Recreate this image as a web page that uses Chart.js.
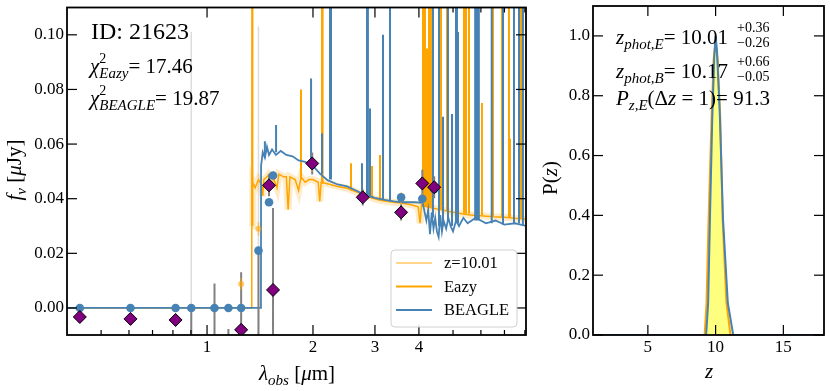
<!DOCTYPE html>
<html>
<head>
<meta charset="utf-8">
<script src="https://cdn.jsdelivr.net/npm/chart.js@4.4.1/dist/chart.umd.min.js"></script>
<style>
  body { margin: 0; background: #fff; }
  #wrap { position: relative; width: 830px; height: 391px; }
  canvas { position: absolute; top: 0; }
</style>
</head>
<body>
<div id="wrap">
  <canvas id="sed" width="540" height="391" style="left:0"></canvas>
  <canvas id="pz" width="290" height="391" style="left:540px"></canvas>
</div>
<script>
const SERIF = '"Liberation Serif", "Times New Roman", serif';
Chart.defaults.font.family = SERIF;
Chart.defaults.font.size = 17;
Chart.defaults.color = '#000';

// ---------- SED panel data (wavelength in micron, flux in uJy) ----------
const filterLam  = [0.435, 0.606, 0.814, 0.902, 1.05, 1.15, 1.25, 1.40, 1.50, 1.54, 1.99, 2.77, 3.56, 4.09, 4.42];
const obsFlux    = [-0.0033, -0.0040, -0.0044, -0.016, -0.015, -0.020, -0.0080, -0.020, 0.0449, 0.0066, 0.0529, 0.0405, 0.0350, 0.0456, 0.0442];
const obsErr     = [0.0020, 0.0020, 0.0020, 0.016, 0.024, 0.0123, 0.0211, 0.041, 0.0040, 0.0300, 0.0040, 0.0030, 0.0030, 0.0050, 0.0040];
const beaglePhot = [0, 0, 0, 0, 0, 0, 0, 0.0210, 0.0387, 0.0485, 0.0525, 0.0410, 0.0405, 0.0400, 0.0435];
const eazyPhot   = [0, 0, 0, 0, 0, 0, 0.0088, 0.0290, 0.0445, 0.0480, 0.0520, 0.0405, 0.0404, 0.0400, 0.0440];
const eazyPhotErr = [0.001, 0.001, 0.001, 0.001, 0.001, 0.001, 0.0022, 0.0025, 0.002, 0.002, 0.002, 0.002, 0.002, 0.002, 0.002];

// faint full-height error bars
const wideLam = [0.902, 1.40];
const wideLo  = [-0.05, -0.05];
const wideHi  = [0.101, 0.103];

// model spectra continuum [lambda, flux]
const eazyCont = [
  [0.40, 0.0], [1.340, 0.0], [1.342, 0.20], [1.346, 0.030], [1.350, 0.046], [1.37, 0.044], [1.40, 0.047],
  [1.43, 0.045], [1.44, 0.041], [1.45, 0.047], [1.48, 0.048], [1.50, 0.049], [1.55, 0.047], [1.58, 0.044],
  [1.60, 0.049], [1.65, 0.048], [1.68, 0.048], [1.70, 0.036], [1.72, 0.048], [1.78, 0.047], [1.82, 0.043],
  [1.85, 0.048], [1.90, 0.046], [1.95, 0.047], [2.00, 0.047], [2.07, 0.046], [2.09, 0.039], [2.11, 0.046],
  [2.20, 0.0455], [2.35, 0.0445], [2.50, 0.0438], [2.65, 0.0425], [2.80, 0.0415], [2.95, 0.0402], [3.10, 0.0394],
  [3.35, 0.0388], [3.60, 0.0383], [3.80, 0.0378], [3.98, 0.037], [4.03, 0.031], [4.07, 0.038], [4.20, 0.037],
  [4.40, 0.0365], [4.60, 0.036], [4.80, 0.0355], [5.00, 0.035], [5.30, 0.0345], [5.60, 0.034], [6.00, 0.0338],
  [6.50, 0.0334], [7.00, 0.0332], [7.50, 0.0328], [8.10, 0.0325]
];
const beagleCont = [
  [0.40, 0.0], [1.423, 0.0], [1.424, 0.052], [1.44, 0.057], [1.46, 0.055], [1.48, 0.059], [1.50, 0.056],
  [1.53, 0.058], [1.57, 0.056], [1.62, 0.0575], [1.68, 0.056], [1.75, 0.0555], [1.82, 0.054], [1.90, 0.0535],
  [2.00, 0.052], [2.10, 0.049], [2.20, 0.0468], [2.35, 0.0452], [2.50, 0.0445], [2.65, 0.043], [2.80, 0.0415],
  [3.00, 0.0403], [3.20, 0.0396], [3.40, 0.039], [3.60, 0.0387], [3.90, 0.0387], [4.10, 0.0385], [4.20, 0.032],
  [4.25, 0.036], [4.30, 0.027], [4.35, 0.035], [4.40, 0.029], [4.45, 0.033], [4.50, 0.028], [4.55, 0.026],
  [4.60, 0.034], [4.65, 0.028], [4.70, 0.032], [4.78, 0.029], [4.85, 0.033], [4.92, 0.030], [5.00, 0.028],
  [5.10, 0.032], [5.20, 0.030], [5.35, 0.033], [5.50, 0.031], [5.80, 0.033], [6.20, 0.031], [6.60, 0.032],
  [7.00, 0.0305], [7.50, 0.031], [8.10, 0.030]
];
// emission lines [lambda, base, peak]
const eazyLines = [
  [1.849, 0.047, 0.080], [2.122, 0.0455, 0.2], [2.130, 0.0455, 0.2], [2.565, 0.043, 0.053], [2.943, 0.040, 0.052],
  [3.101, 0.0394, 0.056], [4.108, 0.037, 0.2], [4.163, 0.037, 0.2], [4.217, 0.037, 0.095], [4.272, 0.037, 0.2],
  [4.328, 0.037, 0.2], [4.621, 0.036, 0.2], [4.806, 0.0355, 0.2], [5.372, 0.0345, 0.2], [5.443, 0.0345, 0.2],
  [5.550, 0.0345, 0.2], [6.042, 0.034, 0.075], [6.494, 0.0335, 0.2], [6.888, 0.033, 0.2], [7.210, 0.033, 0.2],
  [7.257, 0.033, 0.062], [7.800, 0.0325, 0.2]
];
const beagleLines = [
  [1.46, 0.055, 0.061], [1.571, 0.057, 0.067], [1.975, 0.0525, 0.084], [2.122, 0.049, 0.064], [2.236, 0.047, 0.2],
  [2.250, 0.047, 0.2], [2.756, 0.042, 0.053], [2.848, 0.041, 0.2], [2.865, 0.041, 0.2], [2.904, 0.041, 0.073],
  [3.162, 0.0395, 0.100], [3.311, 0.039, 0.2], [4.385, 0.033, 0.2], [4.561, 0.030, 0.2], [4.682, 0.030, 0.070],
  [4.837, 0.032, 0.2], [4.966, 0.030, 0.071], [5.098, 0.031, 0.2], [5.130, 0.031, 0.2], [5.165, 0.031, 0.101],
  [5.780, 0.032, 0.2], [5.850, 0.032, 0.2], [5.920, 0.032, 0.2], [6.440, 0.031, 0.2], [6.934, 0.0305, 0.2],
  [7.450, 0.031, 0.2], [7.700, 0.031, 0.2], [7.900, 0.030, 0.2]
];

const xMajor = [1, 2, 3, 4];
const xMinorBottom = [0.5, 0.6, 0.7, 0.8, 0.9, 5, 6, 7, 8];
const xMinorTop = [5, 6, 7, 8];
const yTicksSed = [0, 0.02, 0.04, 0.06, 0.08, 0.10];
const legendLabels = ['z=10.01', 'Eazy', 'BEAGLE'];

// ---------- P(z) panel data ----------
const zEazy = [1, 9.19, 9.33, 9.48, 9.70, 9.85, 10.0, 10.15, 10.35, 10.52, 10.80, 11.10, 18];
const pEazy = [0, 0, 0.107, 0.385, 0.72, 0.92, 0.98, 0.92, 0.72, 0.385, 0.107, 0, 0];
const zBeagle = [1, 9.30, 9.45, 9.58, 9.75, 9.90, 10.0, 10.10, 10.30, 10.55, 10.90, 11.30, 18];
const pBeagle = [0, 0, 0.107, 0.385, 0.72, 0.93, 1.0, 0.95, 0.75, 0.385, 0.107, 0, 0];
const zTicks = [5, 10, 15];
const pTicks = [0, 0.2, 0.4, 0.6, 0.8, 1.0];

// ---------- colours ----------
const ORANGE = '#ffa500';
const BLUE = '#4682b4';
const BAND = 'rgba(255,165,0,0.22)';

// ---------- helpers ----------
const pts = (xs, ys) => xs.map((x, i) => ({ x: x, y: ys[i] }));
const pairs = arr => arr.map(p => ({ x: p[0], y: p[1] }));
function bars(xs, lo, hi) {
  const out = [];
  xs.forEach((x, i) => out.push({ x: x, y: lo[i] }, { x: x, y: hi[i] }, { x: x, y: null }));
  return out;
}
function spikes(lines) {
  const out = [];
  lines.forEach(l => out.push({ x: l[0], y: l[1] }, { x: l[0], y: l[2] }, { x: l[0], y: null }));
  return out;
}
const lineSet = (label, data, color, width, order) => ({
  label: label, data: data, showLine: true, borderColor: color, borderWidth: width,
  pointRadius: 0, order: order, clip: 0, spanGaps: false
});

// draw text with sub/superscripts: [text, size, italic, dy, keepX, dx]
function rich(ctx, x, y, parts, align) {
  const font = (s, it) => (it ? 'italic ' : '') + s + 'px ' + SERIF;
  let w = 0;
  parts.forEach(p => { ctx.font = font(p[1], p[2]); if (!p[4]) w += ctx.measureText(p[0]).width + (p[5] || 0); });
  if (align === 'center') x -= w / 2;
  ctx.textAlign = 'left';
  parts.forEach(p => {
    ctx.font = font(p[1], p[2]);
    ctx.fillText(p[0], x + (p[5] || 0), y + (p[3] || 0));
    if (!p[4]) x += ctx.measureText(p[0]).width + (p[5] || 0);
  });
}

const framePlugin = {
  id: 'frame',
  afterDatasetsDraw(chart, args, o) {
    const { ctx, chartArea: a } = chart;
    const x = chart.scales.x, y = chart.scales.y;
    ctx.save();
    ctx.strokeStyle = '#000';
    ctx.lineWidth = 1.2;
    const tick = (px, py, dx, dy) => { ctx.beginPath(); ctx.moveTo(px, py); ctx.lineTo(px + dx, py + dy); ctx.stroke(); };
    o.xMajor.forEach(v => { const p = x.getPixelForValue(v); tick(p, a.bottom, 0, -10); tick(p, a.top, 0, 10); });
    (o.xMinorBottom || []).forEach(v => tick(x.getPixelForValue(v), a.bottom, 0, -5));
    (o.xMinorTop || []).forEach(v => tick(x.getPixelForValue(v), a.top, 0, 5));
    o.yMajor.forEach(v => { const p = y.getPixelForValue(v); tick(a.left, p, 10, 0); tick(a.right, p, -10, 0); });
    ctx.lineWidth = 1.8;
    ctx.strokeRect(a.left, a.top, a.right - a.left, a.bottom - a.top);
    ctx.restore();
  }
};

const legendBox = {
  id: 'legendBox',
  afterDatasetsDraw(chart) {
    const ctx = chart.ctx;
    const colors = [BAND.replace('0.22', '0.45'), ORANGE, BLUE];
    const x0 = 391, y0 = 250, w = 126, h = 77, r = 4;
    ctx.save();
    ctx.beginPath();
    ctx.moveTo(x0 + r, y0);
    ctx.arcTo(x0 + w, y0, x0 + w, y0 + h, r);
    ctx.arcTo(x0 + w, y0 + h, x0, y0 + h, r);
    ctx.arcTo(x0, y0 + h, x0, y0, r);
    ctx.arcTo(x0, y0, x0 + w, y0, r);
    ctx.closePath();
    ctx.fillStyle = 'rgba(255,255,255,0.85)';
    ctx.fill();
    ctx.strokeStyle = '#d0d0d0';
    ctx.lineWidth = 1;
    ctx.stroke();
    legendLabels.forEach((t, i) => {
      const yy = 263 + i * 23.5;
      ctx.strokeStyle = colors[i];
      ctx.lineWidth = 2;
      ctx.beginPath(); ctx.moveTo(396, yy); ctx.lineTo(432, yy); ctx.stroke();
      ctx.fillStyle = '#000';
      ctx.font = '16.5px ' + SERIF;
      ctx.textBaseline = 'middle';
      ctx.fillText(t, 444, yy + 1);
    });
    ctx.restore();
  }
};

const sedText = {
  id: 'sedText',
  afterDraw(chart) {
    const ctx = chart.ctx;
    ctx.save();
    ctx.fillStyle = '#000';
    ctx.textBaseline = 'alphabetic';
    rich(ctx, 91, 39, [['ID: 21623', 24]]);
    rich(ctx, 90, 73, [['χ', 21, 1], ['2', 14, 0, -10, 1], ['Eazy', 15, 1, 5], ['= 17.46', 21]]);
    rich(ctx, 90, 105, [['χ', 21, 1], ['2', 14, 0, -10, 1], ['BEAGLE', 15, 1, 5], ['= 19.87', 21]]);
    rich(ctx, 297, 380, [['λ', 21, 1], ['obs', 15, 1, 5], [' [', 21], ['μ', 21, 1], ['m]', 21]], 'center');
    ctx.translate(21, 170);
    ctx.rotate(-Math.PI / 2);
    rich(ctx, 0, 0, [['f', 21, 1], ['ν', 15, 1, 5], [' [', 21], ['μ', 21, 1], ['Jy]', 21]], 'center');
    ctx.restore();
  }
};

const pzText = {
  id: 'pzText',
  afterDraw(chart) {
    const ctx = chart.ctx;
    const ox = -540;
    ctx.save();
    ctx.fillStyle = '#000';
    ctx.textBaseline = 'alphabetic';
    rich(ctx, 616 + ox, 44, [['z', 21, 1], ['phot,E', 15, 1, 5], ['= 10.01', 21], ['+0.36', 14, 0, -12, 1, 9], ['−0.26', 14, 0, 3, 0, 9]]);
    rich(ctx, 616 + ox, 78, [['z', 21, 1], ['phot,B', 15, 1, 5], ['= 10.17', 21], ['+0.66', 14, 0, -12, 1, 9], ['−0.05', 14, 0, 3, 0, 9]]);
    rich(ctx, 616 + ox, 105, [['P', 21, 1], ['z,E', 15, 1, 5], ['(Δ', 21], ['z', 21, 1], [' = 1)', 21], ['= 91.3', 21]]);
    rich(ctx, 709 + ox, 378, [['z', 21, 1]], 'center');
    ctx.translate(557 + ox, 178);
    ctx.rotate(-Math.PI / 2);
    rich(ctx, 0, 0, [['P(', 21], ['z', 21, 1], [')', 21]], 'center');
    ctx.restore();
  }
};

const fitY = w => s => { s.width = w; s.paddingTop = 0; s.paddingBottom = 0; };
const fitX = h => s => { s.height = h; s.paddingLeft = 0; s.paddingRight = 0; };

// ---------- SED chart ----------
new Chart(document.getElementById('sed'), {
  type: 'scatter',
  data: {
    datasets: [
      lineSet('wide', bars(wideLam, wideLo, wideHi), '#dcdcdc', 1.5, 20),
      lineSet('z=10.01', pairs(eazyCont.filter(p => p[0] > 1.345)), BAND, 7, 19),
      lineSet('Eazy lines', spikes(eazyLines), ORANGE, 2, 18),
      lineSet('Eazy', pairs(eazyCont), ORANGE, 1.5, 17),
      lineSet('BEAGLE lines', spikes(beagleLines), BLUE, 2, 16),
      lineSet('BEAGLE', pairs(beagleCont), BLUE, 1.8, 15),
      lineSet('obs err', bars(filterLam, obsFlux.map((f, i) => f - obsErr[i]), obsFlux.map((f, i) => f + obsErr[i])), '#808080', 2, 10),
      lineSet('eazy phot err', bars(filterLam, eazyPhot.map((f, i) => f - eazyPhotErr[i]), eazyPhot.map((f, i) => f + eazyPhotErr[i])), 'rgba(255,165,0,0.55)', 1.5, 9),
      { label: 'eazy phot', data: pts(filterLam, eazyPhot), pointRadius: 3, backgroundColor: 'rgba(255,165,0,0.6)', borderWidth: 0, order: 8, clip: 0 },
      { label: 'beagle phot', data: pts(filterLam, beaglePhot), pointRadius: 4.3, backgroundColor: BLUE, borderWidth: 0, order: 7, clip: 0 },
      { label: 'observed', data: pts(filterLam, obsFlux), pointStyle: 'rectRot', pointRadius: 6.5, backgroundColor: '#800080', borderColor: '#000', borderWidth: 1, order: 1, clip: 0 }
    ]
  },
  options: {
    responsive: false,
    animation: false,
    devicePixelRatio: 1,
    events: [],
    layout: { padding: { left: 0, right: 14, top: 6, bottom: 0 } },
    plugins: {
      legend: { display: false },
      tooltip: { enabled: false },
      frame: { xMajor: xMajor, xMinorBottom: xMinorBottom, xMinorTop: xMinorTop, yMajor: yTicksSed }
    },
    scales: {
      x: {
        type: 'logarithmic', min: 0.4, max: 8.06,
        grid: { display: false, drawTicks: false }, border: { display: false },
        ticks: { autoSkip: false, maxRotation: 0, padding: 2, callback: v => String(v) },
        afterBuildTicks: s => { s.ticks = xMajor.map(v => ({ value: v })); },
        afterFit: fitX(56)
      },
      y: {
        min: -0.0099, max: 0.110,
        grid: { display: false, drawTicks: false }, border: { display: false },
        ticks: { padding: 3, callback: v => v.toFixed(2) },
        afterBuildTicks: s => { s.ticks = yTicksSed.map(v => ({ value: v })); },
        afterFit: fitY(67)
      }
    }
  },
  plugins: [framePlugin, legendBox, sedText]
});

// ---------- P(z) chart ----------
new Chart(document.getElementById('pz'), {
  type: 'scatter',
  data: {
    datasets: [
      Object.assign(lineSet('Eazy P(z)', pts(zEazy, pEazy), ORANGE, 2, 5), { fill: 'origin', backgroundColor: 'rgba(255,255,0,0.5)' }),
      lineSet('BEAGLE P(z)', pts(zBeagle, pBeagle), BLUE, 2, 4)
    ]
  },
  options: {
    responsive: false,
    animation: false,
    devicePixelRatio: 1,
    events: [],
    layout: { padding: { left: 0, right: 6, top: 6, bottom: 0 } },
    plugins: {
      legend: { display: false },
      tooltip: { enabled: false },
      frame: { xMajor: zTicks, yMajor: pTicks }
    },
    scales: {
      x: {
        type: 'linear', min: 0.95, max: 18,
        grid: { display: false, drawTicks: false }, border: { display: false },
        ticks: { autoSkip: false, maxRotation: 0, padding: 2, callback: v => String(v) },
        afterBuildTicks: s => { s.ticks = zTicks.map(v => ({ value: v })); },
        afterFit: fitX(56)
      },
      y: {
        min: 0, max: 1.1,
        grid: { display: false, drawTicks: false }, border: { display: false },
        ticks: { padding: 3, callback: v => v.toFixed(1) },
        afterBuildTicks: s => { s.ticks = pTicks.map(v => ({ value: v })); },
        afterFit: fitY(53)
      }
    }
  },
  plugins: [framePlugin, pzText]
});
</script>
</body>
</html>
